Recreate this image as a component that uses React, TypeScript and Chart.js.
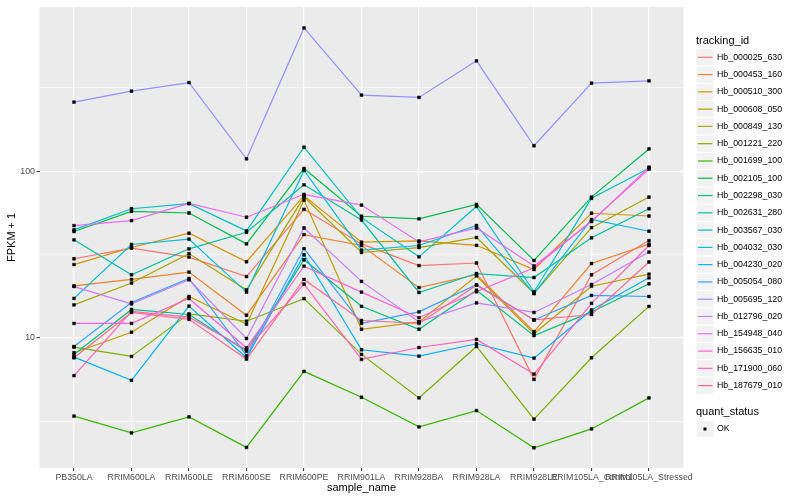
import React, { useEffect, useRef } from "react";
import { Chart, registerables } from "chart.js";

Chart.register(...registerables);

const categories = [
  "PB350LA",
  "RRIM600LA",
  "RRIM600LE",
  "RRIM600SE",
  "RRIM600PE",
  "RRIM901LA",
  "RRIM928BA",
  "RRIM928LA",
  "RRIM928LE",
  "RRIM105LA_Control",
  "RRIM105LA_Stressed",
];

const trackingIds = [
  "Hb_000025_630",
  "Hb_000453_160",
  "Hb_000510_300",
  "Hb_000608_050",
  "Hb_000849_130",
  "Hb_001221_220",
  "Hb_001699_100",
  "Hb_002105_100",
  "Hb_002298_030",
  "Hb_002631_280",
  "Hb_003567_030",
  "Hb_004032_030",
  "Hb_004230_020",
  "Hb_005054_080",
  "Hb_005695_120",
  "Hb_012796_020",
  "Hb_154948_040",
  "Hb_156635_010",
  "Hb_171900_060",
  "Hb_187679_010",
];

const seriesColors = [
  "#F8766D", "#EA8331", "#D89000", "#C09B00", "#A3A500",
  "#7CAE00", "#39B600", "#00BB4E", "#00BF7D", "#00C1A3",
  "#00BFC4", "#00BAE0", "#00B0F6", "#35A2FF", "#9590FF",
  "#C77CFF", "#E76BF3", "#FA62DB", "#FF62BC", "#FF6C91",
];

// FPKM + 1 per sample, in category order
const hb000025_630 = [29.8, 34.5, 30.5, 23.3, 59.0, 36.6, 27.1, 28.1, 5.63, 23.9, 38.3];
const hb000453_160 = [20.5, 22.4, 24.8, 13.65, 41.6, 35.8, 20.0, 23.9, 10.9, 27.9, 36.5];
const hb000510_300 = [27.5, 34.8, 42.4, 28.6, 71.2, 37.5, 38.2, 35.9, 25.7, 55.9, 53.8];
const hb000608_050 = [8.14, 10.8, 17.7, 12.06, 67, 11.25, 12.46, 23.5, 10.6, 20.4, 24.1];
const hb000849_130 = [15.75, 21.3, 32.0, 19.4, 69.9, 32.5, 34.8, 40.0, 18.5, 45.8, 69.9];
const hb001221_220 = [8.79, 7.73, 13.92, 12.57, 17.18, 7.95, 4.36, 8.87, 3.25, 7.59, 15.43];
const hb001699_100 = [3.39, 2.69, 3.35, 2.2, 6.29, 4.4, 2.92, 3.66, 2.19, 2.84, 4.36];
const hb002105_100 = [43.4, 57.4, 56.1, 36.6, 103.8, 53.6, 51.7, 63.2, 29.1, 69.9, 135.9];
const hb002298_030 = [7.95, 14.8, 13.8, 8.32, 29.4, 15.45, 11.25, 19.3, 10.3, 14.3, 21.1];
const hb002631_280 = [38.7, 23.9, 34.2, 43.0, 82.8, 50.9, 18.7, 24.3, 23.0, 39.8, 59.5];
const hb003567_030 = [44.4, 59.5, 63.8, 43.8, 139.2, 52.6, 30.6, 61.4, 18.9, 68.7, 104.2];
const hb004032_030 = [17.25, 36.3, 39.1, 18.8, 101, 33.6, 35.8, 47.2, 18.4, 51.3, 43.6];
const hb004230_020 = [7.66, 5.56, 15.5, 7.59, 31.5, 8.48, 7.76, 9.21, 7.55, 14.7, 22.9];
const hb005054_080 = [8.87, 16.3, 22.7, 7.81, 34.3, 12.2, 14.3, 20.8, 12.8, 17.97, 17.7];
const hb005695_120 = [259.6, 302, 340, 118.5, 723, 286, 277, 459, 142, 337, 348];
const hb012796_020 = [20.3, 15.97, 22.3, 9.9, 45.6, 21.8, 12.46, 16.2, 14.2, 20.9, 32.7];
const hb154948_040 = [47.1, 50.5, 64.1, 52.9, 72.6, 62.6, 37.6, 45.6, 27.0, 49.8, 105.7];
const hb156635_010 = [12.2, 12.2, 17.2, 8.71, 26.9, 18.8, 13.2, 18.9, 26.3, 50.2, 102.8];
const hb171900_060 = [5.93, 14.4, 13.3, 8.48, 21.0, 7.42, 8.75, 9.77, 6.06, 16.1, 35.8];
const hb187679_010 = [7.59, 14.2, 12.9, 7.45, 22.4, 12.7, 12.2, 20.7, 12.8, 13.8, 28.5];

const seriesValues = [
  hb000025_630, hb000453_160, hb000510_300, hb000608_050, hb000849_130,
  hb001221_220, hb001699_100, hb002105_100, hb002298_030, hb002631_280,
  hb003567_030, hb004032_030, hb004230_020, hb005054_080, hb005695_120,
  hb012796_020, hb154948_040, hb156635_010, hb171900_060, hb187679_010,
];

const yMajorTicks = [10, 100];
const yMinorTicks = [Math.sqrt(10), Math.sqrt(1000), Math.sqrt(100000)];
const yRange = [1.655, 968.7];

const quantStatus = ["OK"];

const FONT = "'Liberation Sans', Arial, Helvetica, sans-serif";

const ggPlugin = {
  id: "ggDecor",
  beforeDraw(chart: any) {
    const { ctx, chartArea } = chart;
    ctx.save();
    ctx.fillStyle = "#FFFFFF";
    ctx.fillRect(0, 0, chart.width, chart.height);
    ctx.fillStyle = "#EBEBEB";
    ctx.fillRect(chartArea.left, chartArea.top, chartArea.right - chartArea.left, chartArea.bottom - chartArea.top);
    ctx.restore();
  },
  afterDraw(chart: any) {
    const { ctx, chartArea } = chart;
    ctx.save();
    ctx.fillStyle = "#000000";
    ctx.textBaseline = "middle";
    // axis titles
    ctx.font = `11px ${FONT}`;
    ctx.textAlign = "center";
    ctx.fillText("sample_name", (chartArea.left + chartArea.right) / 2, 488);
    ctx.save();
    ctx.translate(12, (chartArea.top + chartArea.bottom) / 2);
    ctx.rotate(-Math.PI / 2);
    ctx.fillText("FPKM + 1", 0, 0);
    ctx.restore();

    // legend: tracking_id
    ctx.textAlign = "left";
    ctx.font = `11px ${FONT}`;
    ctx.fillText("tracking_id", 696, 40.7);
    const step = 17.28;
    trackingIds.forEach((id, i) => {
      const cy = 57.3 + i * step;
      ctx.fillStyle = "#F2F2F2";
      ctx.fillRect(696.5, cy - 8.1, 17, 16.2);
      ctx.strokeStyle = seriesColors[i];
      ctx.lineWidth = 1.2;
      ctx.beginPath();
      ctx.moveTo(698, cy);
      ctx.lineTo(712.5, cy);
      ctx.stroke();
      ctx.fillStyle = "#000000";
      ctx.font = `8.8px ${FONT}`;
      ctx.fillText(id, 717, cy);
    });

    // legend: quant_status
    ctx.font = `11px ${FONT}`;
    ctx.fillStyle = "#000000";
    ctx.fillText("quant_status", 696, 412.3);
    quantStatus.forEach((s, i) => {
      const cy = 429 + i * step;
      ctx.fillStyle = "#F2F2F2";
      ctx.fillRect(696.5, cy - 8.1, 17, 16.2);
      ctx.fillStyle = "#000000";
      ctx.fillRect(703.5, cy - 1.5, 3, 3);
      ctx.font = `8.8px ${FONT}`;
      ctx.fillText(s, 717, cy);
    });
    ctx.restore();
  },
};

export default function App() {
  const ref = useRef<HTMLCanvasElement>(null);

  useEffect(() => {
    document.body.style.margin = "0";
    const canvas = ref.current;
    if (!canvas) return;

    const lineSets = seriesValues.map((vals, i) => ({
      label: trackingIds[i],
      data: vals.map((v, j) => ({ x: j, y: v })),
      borderColor: seriesColors[i],
      backgroundColor: seriesColors[i],
      borderWidth: 1.2,
      pointRadius: 0,
      pointHoverRadius: 0,
      showLine: true,
      fill: false,
      tension: 0,
      order: 100 - i,
    }));

    const pointSets = seriesValues.map((vals, i) => ({
      label: trackingIds[i] + " OK",
      data: vals.map((v, j) => ({ x: j, y: v })),
      showLine: false,
      pointStyle: "rect",
      pointRadius: 2,
      pointBackgroundColor: "#000000",
      pointBorderColor: "#000000",
      pointBorderWidth: 0.5,
      borderColor: "#000000",
      backgroundColor: "#000000",
      order: 0,
    }));

    const chart = new Chart(canvas, {
      type: "line",
      data: { datasets: [...lineSets, ...pointSets] as any },
      options: {
        responsive: false,
        animation: false,
        devicePixelRatio: 1,
        layout: { padding: { top: 5, right: 116.5, left: 0, bottom: 0 } },
        plugins: {
          legend: { display: false },
          tooltip: { enabled: false },
        },
        scales: {
          x: {
            type: "linear",
            min: -0.6,
            max: categories.length - 1 + 0.6,
            afterBuildTicks: (scale: any) => {
              scale.ticks = categories.map((_, i) => ({ value: i }));
            },
            afterFit: (scale: any) => {
              scale.height = 32;
            },
            ticks: {
              autoSkip: false,
              maxRotation: 0,
              minRotation: 0,
              padding: 1.5,
              color: "#4D4D4D",
              font: { family: FONT, size: 8.8 },
              callback: (value: any) => categories[Math.round(Number(value))] ?? "",
            },
            grid: {
              color: "#FFFFFF",
              lineWidth: 1.2,
              tickColor: "#333333",
              tickWidth: 1,
              tickLength: 3,
            },
            border: { display: false },
          },
          y: {
            type: "logarithmic",
            min: yRange[0],
            max: yRange[1],
            bounds: "data",
            afterBuildTicks: (scale: any) => {
              scale.ticks = [...yMinorTicks, ...yMajorTicks]
                .sort((a, b) => a - b)
                .map((v) => ({ value: v, major: yMajorTicks.includes(v) }));
            },
            afterFit: (scale: any) => {
              scale.width = 39.5;
            },
            ticks: {
              autoSkip: false,
              padding: 1.5,
              color: "#4D4D4D",
              font: { family: FONT, size: 8.8 },
              callback: (value: any) => (yMajorTicks.includes(Number(value)) ? String(value) : ""),
            },
            grid: {
              color: "#FFFFFF",
              lineWidth: (c: any) => (c.tick && yMajorTicks.includes(c.tick.value) ? 1.2 : 0.6),
              tickColor: (c: any) => (c.tick && yMajorTicks.includes(c.tick.value) ? "#333333" : "rgba(0,0,0,0)"),
              tickWidth: 1,
              tickLength: 3,
            },
            border: { display: false },
          },
        },
      },
      plugins: [ggPlugin],
    });

    return () => {
      chart.destroy();
    };
  }, []);

  return (
    <canvas
      ref={ref}
      width={800}
      height={500}
      style={{ display: "block", width: "800px", height: "500px" }}
    />
  );
}
